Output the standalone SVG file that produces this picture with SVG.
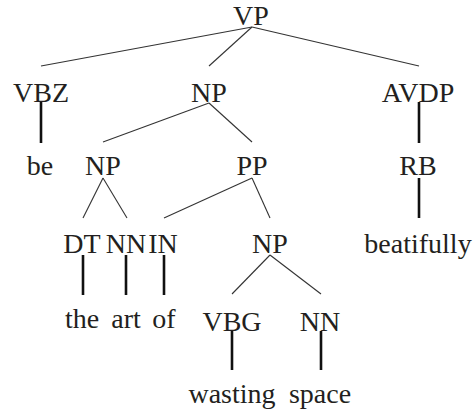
<svg xmlns="http://www.w3.org/2000/svg" width="475" height="413" viewBox="0 0 475 413">
<style>
text{font-family:"Liberation Serif","Times New Roman",serif;font-size:28px;fill:#231f20;text-anchor:middle}
.e{stroke:#333;stroke-width:1.1;fill:none}
.v{stroke:#111;stroke-width:2.6;fill:none}
</style>
<rect width="475" height="413" fill="#fff"/>
<g id="connectors">
<line class="e" x1="252" y1="27" x2="41" y2="66"/>
<line class="e" x1="252" y1="27" x2="209" y2="66"/>
<line class="e" x1="252" y1="27" x2="419" y2="66"/>
<line class="v" x1="41" y1="102" x2="41" y2="143"/>
<line class="v" x1="419" y1="102" x2="419" y2="143"/>
<line class="e" x1="209" y1="103" x2="103" y2="142"/>
<line class="e" x1="209" y1="103" x2="252" y2="142"/>
<line class="e" x1="103" y1="178" x2="83" y2="218"/>
<line class="e" x1="103" y1="178" x2="127" y2="218"/>
<line class="e" x1="252" y1="178" x2="164" y2="218"/>
<line class="e" x1="252" y1="178" x2="270" y2="218"/>
<line class="v" x1="419" y1="178" x2="419" y2="218"/>
<line class="v" x1="83" y1="255" x2="83" y2="295"/>
<line class="v" x1="126" y1="255" x2="126" y2="295"/>
<line class="v" x1="164" y1="255" x2="164" y2="295"/>
<line class="e" x1="270" y1="255" x2="232" y2="294"/>
<line class="e" x1="270" y1="255" x2="321" y2="294"/>
<line class="v" x1="232" y1="331" x2="232" y2="370"/>
<line class="v" x1="321" y1="331" x2="321" y2="370"/>
</g>
<g id="n-VP"><text x="251" y="25">VP</text></g>
<g id="n-VBZ"><text x="41" y="102">VBZ</text></g>
<g id="n-NP1"><text x="209" y="102">NP</text></g>
<g id="n-AVDP"><text x="418" y="102">AVDP</text></g>
<g id="n-be"><text x="40" y="175">be</text></g>
<g id="n-NP2"><text x="103" y="175">NP</text></g>
<g id="n-PP"><text x="252" y="175">PP</text></g>
<g id="n-RB"><text x="418" y="175">RB</text></g>
<g id="n-DT"><text x="82" y="253">DT</text></g>
<g id="n-NN1"><text x="126" y="253">NN</text></g>
<g id="n-IN"><text x="163" y="253">IN</text></g>
<g id="n-NP3"><text x="270" y="253">NP</text></g>
<g id="n-beatifully"><text x="418" y="253">beatifully</text></g>
<g id="n-the"><text x="82" y="328">the</text></g>
<g id="n-art"><text x="126" y="328">art</text></g>
<g id="n-of"><text x="164" y="328">of</text></g>
<g id="n-VBG"><text x="232" y="331">VBG</text></g>
<g id="n-NN2"><text x="320" y="331">NN</text></g>
<g id="n-wasting"><text x="232" y="403">wasting</text></g>
<g id="n-space"><text x="320" y="403">space</text></g>
</svg>
